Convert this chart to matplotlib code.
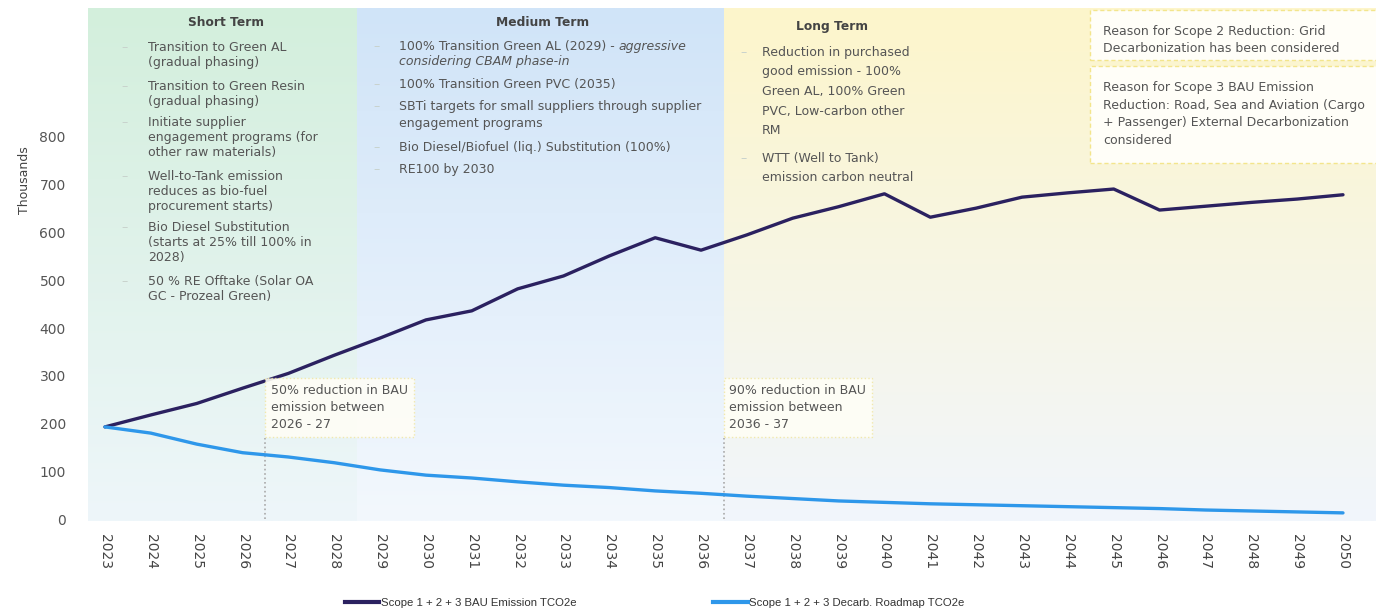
import numpy as np
import matplotlib.pyplot as plt
import matplotlib.colors as mcolors
from matplotlib.patches import Rectangle
from matplotlib.lines import Line2D

# data (thousand tCO2e)
years = list(range(2023, 2051))
bau = [193, 218, 242, 274, 305, 343, 379, 417, 436, 482,
       509, 551, 589, 563, 595, 630, 654, 681, 632, 651,
       674, 683, 691, 647, 655, 663, 670, 679]
decarb = [193, 180, 157, 139, 130, 118, 103, 92, 86, 78,
          71, 66, 59, 54, 48, 43, 38, 35, 32, 30,
          28, 26, 24, 22, 19, 17, 15, 13]
yticks = [0, 100, 200, 300, 400, 500, 600, 700, 800]

short_items = ['Transition to Green AL\n(gradual phasing)',
               'Transition to Green Resin\n(gradual phasing)',
               'Initiate supplier\nengagement programs (for\nother raw materials)',
               'Well-to-Tank emission\nreduces as bio-fuel\nprocurement starts)',
               'Bio Diesel Substitution\n(starts at 25% till 100% in\n2028)',
               '50 % RE Offtake (Solar OA\nGC - Prozeal Green)']
medium_items = ['100% Transition Green AL (2029) - ',
                '100% Transition Green PVC (2035)',
                'SBTi targets for small suppliers through supplier\nengagement programs',
                'Bio Diesel/Biofuel (liq.) Substitution (100%)',
                'RE100 by 2030']
long_items = ['Reduction in purchased\ngood emission - 100%\nGreen AL, 100% Green\nPVC, Low-carbon other\nRM',
              'WTT (Well to Tank)\nemission carbon neutral']
note_scope2 = 'Reason for Scope 2 Reduction: Grid\nDecarbonization has been considered'
note_scope3 = ('Reason for Scope 3 BAU Emission\nReduction: Road, Sea and Aviation (Cargo\n'
               '+ Passenger) External Decarbonization\nconsidered')
note_50 = '50% reduction in BAU\nemission between\n2026 - 27'
note_90 = '90% reduction in BAU\nemission between\n2036 - 37'

W, H = 1376, 613
def fx(x):
    return x / W
def fy(y):
    return 1 - y / H

plt.rcParams['font.family'] = 'DejaVu Sans'
fig = plt.figure(figsize=(W / 100, H / 100), dpi=100)
ax = fig.add_axes([88 / W, 92 / H, (W - 88) / W, 513 / H])

x_lo, x_hi = 2022.63, 2050.72
y_lo, y_hi = -4, 1070

# gradient phase backgrounds
def shade(x0, x1, top, bottom):
    t = np.linspace(0, 1, 256)[:, None, None]
    img = np.array(mcolors.to_rgb(top)) * (1 - t) + np.array(mcolors.to_rgb(bottom)) * t
    ax.imshow(img, extent=(x0, x1, y_lo, y_hi), aspect='auto', origin='upper', zorder=0)

shade(x_lo, 2028.5, '#d3efdc', '#eef6fa')
shade(2028.5, 2036.5, '#d0e4f8', '#f3f8fd')
shade(2036.5, x_hi, '#fdf5cb', '#f1f6fc')

ax.plot(years, bau, color='#2b2160', lw=2.4, zorder=3, solid_capstyle='round')
ax.plot(years, decarb, color='#2e97ea', lw=2.4, zorder=3, solid_capstyle='round')

ax.set_xlim(x_lo, x_hi)
ax.set_ylim(y_lo, y_hi)
ax.set_xticks(years)
ax.set_xticklabels([str(y) for y in years], rotation=270, fontsize=10, color='#444')
ax.set_yticks(yticks)
ax.set_yticklabels([str(v) for v in yticks], fontsize=10, color='#555')
ax.tick_params(axis='both', length=0)
ax.tick_params(axis='x', pad=9)
ax.tick_params(axis='y', pad=16)
for s in ax.spines.values():
    s.set_visible(False)
fig.text(fx(25), fy(180), 'Thousands', rotation=90, ha='center', va='center', fontsize=9, color='#444')

fs = 9
txt_kw = dict(va='top', ha='left', fontsize=fs, color='#555')
dash_kw = dict(va='top', ha='left', fontsize=fs, color='#c8d2cc')
head_kw = dict(ha='center', va='top', fontsize=8.8, fontweight='bold', color='#444')

# dotted markers + reduction boxes
for yr, txt in [(2026.5, note_50), (2036.5, note_90)]:
    ax.vlines(yr, 0, 170, colors='#a9a9a9', linestyles=':', lw=1.2, zorder=2)
    ax.text(yr + 0.12, 283, txt, linespacing=1.4, zorder=4,
            bbox=dict(boxstyle='square,pad=0.45', fc='#fffef6', ec='#f1e7a6', ls=':', lw=1.0, alpha=0.9),
            **txt_kw)

# short term
fig.text(fx(226), fy(16), 'Short Term', **head_kw)
for top, item in zip([41, 80, 116, 170, 221, 275], short_items):
    fig.text(fx(121), fy(top), '–', **dash_kw)
    fig.text(fx(148), fy(top), item, linespacing=1.2, **txt_kw)

# medium term
fig.text(fx(543), fy(16), 'Medium Term', **head_kw)
for top, item in zip([40, 78, 100, 141, 163], medium_items):
    fig.text(fx(373), fy(top), '–', **dash_kw)
    t = fig.text(fx(399), fy(top), item, linespacing=1.4, **txt_kw)
    if item.endswith('- '):
        fig.text(fx(399), fy(top + 15), 'considering CBAM phase-in', style='italic', **txt_kw)
        ax.annotate('aggressive', xy=(1, 1), xycoords=t, va='top', ha='left',
                    fontsize=fs, color='#555', style='italic', annotation_clip=False)

# long term
fig.text(fx(832), fy(20), 'Long Term', **head_kw)
for top, item in zip([46, 152], long_items):
    fig.text(fx(740), fy(top), '–', **dash_kw)
    fig.text(fx(762), fy(top), item, linespacing=1.65, **txt_kw)

# scope notes (top right)
for y0, y1, top, txt in [(10, 60, 25, note_scope2), (66, 163, 81, note_scope3)]:
    fig.patches.append(Rectangle((fx(1090), fy(y1)), fx(W + 5) - fx(1090), (y1 - y0) / H,
                                 transform=fig.transFigure, fc='#fffef8', ec='#f3e58c',
                                 ls=(0, (3, 2)), lw=1.0, zorder=1))
    fig.text(fx(1103), fy(top), txt, linespacing=1.45, zorder=5, **txt_kw)

handles = [Line2D([], [], color='#2b2160', lw=3),
           Line2D([], [], color='#2e97ea', lw=3)]
fig.legend(handles, ['Scope 1 + 2 + 3 BAU Emission TCO2e', 'Scope 1 + 2 + 3 Decarb. Roadmap TCO2e'],
           loc='center', bbox_to_anchor=(fx(655), fy(603)), ncol=2, frameon=False,
           handlelength=3, handletextpad=0.15, columnspacing=12,
           prop={'family': 'Liberation Sans', 'size': 8.2}, labelcolor='#333')

fig.savefig('out.png', dpi=100)
